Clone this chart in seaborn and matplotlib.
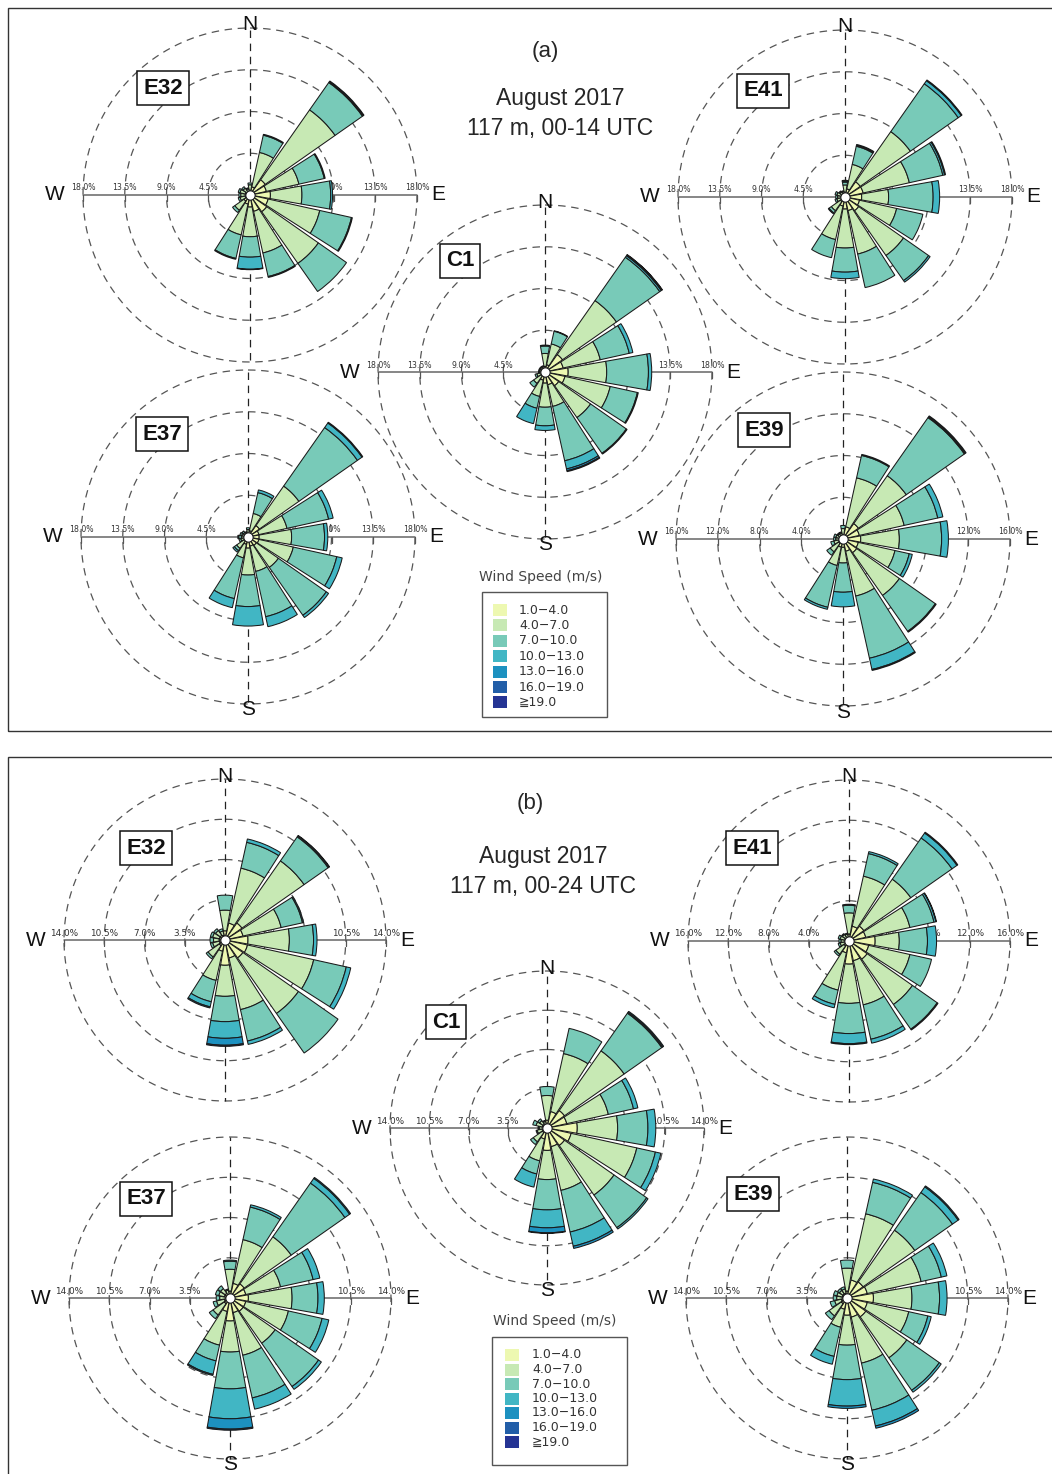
import numpy as np
import matplotlib
matplotlib.use("Agg")
import matplotlib.pyplot as plt
from matplotlib.patches import Rectangle
from matplotlib.transforms import offset_copy
import seaborn as sns

sns.set_style("white")
plt.rcParams["font.family"] = ["Liberation Sans", "DejaVu Sans"]

W, H = 1052, 1474

# 16 compass sectors, clockwise from north
DIRECTIONS = ["N", "NNE", "NE", "ENE", "E", "ESE", "SE", "SSE",
              "S", "SSW", "SW", "WSW", "W", "WNW", "NW", "NNW"]
SPEED_BINS = ["1.0\u22124.0", "4.0\u22127.0", "7.0\u221210.0", "10.0\u221213.0",
              "13.0\u221216.0", "16.0\u221219.0", "\u226719.0"]
BIN_COLORS = sns.color_palette(["#edf8b1", "#c7e9b4", "#78cab8", "#41b6c4",
                                "#1d91c0", "#225ea8", "#253494"])

# Frequency (%) per sector, split by speed bin (missing bins are zero)
# ---- (a) 00-14 UTC ----
E32_a = [[0.5, 0.6, 0.2], [0.9, 3.8, 1.9, 0.1], [2.0, 9.2, 3.6, 0.1, 0.1],
         [1.8, 3.6, 2.8, 0.1], [2.2, 3.4, 3.1, 0.2], [2.0, 5.7, 3.5, 0.1],
         [2.2, 6.8, 3.7], [1.8, 4.6, 2.6, 0.1], [1.3, 3.2, 2.2, 1.3, 0.05],
         [1.0, 3.4, 2.6, 0.1], [0.8, 1.2, 0.3], [0.5, 0.6, 0.2],
         [0.5, 0.5, 0.2], [0.5, 0.6, 0.2], [0.4, 0.5, 0.2], [0.3, 0.4, 0.1]]
E41_a = [[0.5, 0.8, 0.3, 0.1, 0.1], [0.9, 2.7, 2.0, 0.1, 0.1], [2.0, 6.6, 6.3, 0.4, 0.1],
         [2.0, 5.1, 3.7, 0.2, 0.1], [1.8, 2.9, 4.8, 0.7], [1.6, 4.1, 2.9],
         [1.8, 5.9, 3.3, 0.2], [1.5, 4.8, 3.7], [1.3, 4.2, 2.6, 0.7],
         [1.0, 3.7, 2.0], [0.6, 1.2, 0.3, 0.1], [0.4, 0.5, 0.2],
         [0.4, 0.4, 0.2], [0.4, 0.5, 0.2], [0.3, 0.4, 0.1], [0.3, 0.3, 0.1]]
C1_a = [[0.6, 1.4, 0.8, 0.1], [0.8, 2.3, 1.4, 0.05], [2.3, 7.1, 5.7, 0.2, 0.1, 0.05],
        [2.0, 4.1, 3.2, 0.4], [2.5, 4.15, 4.5, 0.35], [2.2, 5.0, 3.0, 0.1],
        [1.8, 4.2, 4.7, 0.1], [1.4, 2.4, 6.0, 0.9, 0.2, 0.1], [1.2, 2.6, 2.0, 0.5],
        [0.9, 1.8, 1.3, 1.7], [0.5, 1.0, 0.5], [0.4, 0.5, 0.2],
        [0.3, 0.3, 0.1], [0.3, 0.3, 0.1], [0.3, 0.3, 0.1], [0.3, 0.3, 0.1]]
E37_a = [[0.3, 0.5, 0.2], [0.7, 1.9, 2.3, 0.3], [1.5, 5.2, 7.7, 0.6, 0.1],
         [1.2, 3.1, 4.6, 0.5], [1.2, 3.5, 3.55, 0.35], [1.2, 3.8, 4.8, 0.6],
         [1.1, 2.9, 6.3, 0.3], [1.0, 2.8, 5.0, 1.1], [1.2, 2.9, 3.4, 2.1],
         [0.8, 1.5, 4.5, 1.0], [0.5, 1.0, 0.3, 0.2], [0.4, 0.4, 0.2],
         [0.3, 0.4, 0.3, 0.1], [0.3, 0.4, 0.2], [0.3, 0.3, 0.2], [0.2, 0.3, 0.1]]
E39_a = [[0.4, 0.6, 0.3], [1.2, 4.8, 2.2, 0.1], [1.8, 5.6, 6.8, 0.1, 0.1],
         [1.6, 4.4, 3.3, 0.5], [1.7, 3.7, 4.05, 0.65], [1.5, 3.6, 1.4, 0.3],
         [1.6, 5.0, 4.2, 0.1], [1.2, 4.4, 6.1, 1.1, 0.1], [0.8, 1.5, 2.8, 1.4],
         [0.8, 1.8, 4.1, 0.2], [0.5, 1.0, 0.4], [0.4, 0.5, 0.3],
         [0.3, 0.4, 0.2], [0.3, 0.4, 0.2], [0.3, 0.3, 0.1], [0.3, 0.3, 0.1]]

# ---- (b) 00-24 UTC ----
E32_b = [[0.8, 1.8, 1.3], [1.5, 4.9, 2.3, 0.3], [1.8, 6.6, 2.55, 0.1, 0.05],
         [1.6, 3.4, 1.9, 0.1], [2.0, 3.6, 2.1, 0.3], [2.0, 5.9, 2.9, 0.4],
         [1.9, 5.9, 4.2], [1.6, 4.6, 2.8, 0.3], [2.2, 2.7, 2.2, 1.45, 0.6, 0.1],
         [1.0, 2.6, 1.9, 0.45, 0.1], [0.6, 1.2, 0.2], [0.5, 0.6, 0.2],
         [0.5, 0.5, 0.3], [0.5, 0.6, 0.2], [0.5, 0.5, 0.2], [0.4, 0.4, 0.2]]
E41_b = [[0.7, 2.1, 0.75, 0.1], [1.5, 5.1, 2.3, 0.2], [1.8, 5.7, 5.0, 0.6, 0.1],
         [1.7, 4.5, 2.45, 0.2, 0.05], [2.6, 2.4, 2.8, 0.9], [2.0, 4.2, 2.2],
         [2.2, 5.5, 3.0, 0.1], [2.0, 4.5, 3.5, 0.4], [2.3, 3.9, 3.0, 1.0, 0.1],
         [1.2, 3.8, 1.45, 0.35], [0.6, 1.0, 0.2], [0.4, 0.5, 0.2],
         [0.4, 0.4, 0.2], [0.4, 0.5, 0.2], [0.4, 0.4, 0.1], [0.3, 0.4, 0.1]]
C1_b = [[0.7, 2.2, 0.8], [1.5, 5.3, 2.3], [1.9, 6.5, 4.1, 0.1, 0.1],
        [1.8, 3.8, 2.3, 0.4], [2.7, 3.6, 2.7, 0.7], [2.2, 6.0, 1.7, 0.5],
        [1.9, 5.4, 3.55, 0.15], [1.7, 4.0, 3.8, 1.3, 0.2], [2.0, 2.6, 2.7, 1.6, 0.45, 0.05],
        [1.0, 2.0, 1.2, 1.2], [0.5, 1.0, 0.3], [0.4, 0.5, 0.1],
        [0.3, 0.4, 0.1], [0.4, 0.6, 0.3], [0.4, 0.4, 0.2], [0.3, 0.3, 0.1]]
E37_b = [[0.6, 1.9, 0.7, 0.1], [1.3, 3.9, 2.9, 0.2], [1.5, 5.0, 5.7, 0.5, 0.1],
         [1.4, 3.1, 2.9, 0.6], [1.6, 3.8, 2.25, 0.55], [1.4, 3.8, 3.0, 0.6],
         [1.4, 3.4, 4.6, 0.3], [1.3, 3.8, 3.8, 1.0], [2.0, 2.7, 3.2, 2.6, 0.9, 0.1],
         [1.2, 3.0, 1.4, 1.2, 0.1], [0.6, 1.2, 0.4], [0.5, 0.7, 0.3],
         [0.4, 0.5, 0.3], [0.5, 0.5, 0.3], [0.5, 0.5, 0.3], [0.3, 0.4, 0.1]]
E39_b = [[0.6, 2.0, 0.7], [1.6, 5.9, 2.8, 0.3], [1.7, 5.5, 4.0, 0.6, 0.1],
         [1.8, 4.8, 1.8, 0.5], [2.3, 3.35, 2.4, 0.65], [1.8, 3.7, 1.7, 0.3],
         [2.0, 4.35, 3.45, 0.2], [1.7, 4.1, 4.2, 1.4, 0.2], [1.5, 2.6, 3.0, 2.3, 0.2],
         [1.0, 1.6, 2.6, 0.7], [0.6, 1.3, 0.4], [0.5, 0.6, 0.4],
         [0.4, 0.5, 0.3], [0.4, 0.5, 0.3], [0.4, 0.4, 0.2], [0.4, 0.4, 0.2]]

RINGS_A = [4.5, 9.0, 13.5, 18.0]
RINGS_A39 = [4.0, 8.0, 12.0, 16.0]
RINGS_B = [3.5, 7.0, 10.5, 14.0]
RINGS_B41 = [4.0, 8.0, 12.0, 16.0]


def fx(x):
    return x / W


def fy(y):
    return 1 - y / H


def as_table(rows):
    table = np.zeros((len(DIRECTIONS), len(SPEED_BINS)))
    for i, r in enumerate(rows):
        table[i, :len(r)] = r
    return table


def draw_rose(fig, name, cx, cy, rpx, rings, rows, letters, box_xy, tick_fs):
    R = rpx + 14
    ax = fig.add_axes([fx(cx - R), fy(cy + R), 2 * R / W, 2 * R / H],
                      projection="polar")
    ax.set_theta_zero_location("N")
    ax.set_theta_direction(-1)
    outer = rings[-1]
    ax.set_ylim(0, outer * R / rpx)
    ax.set_facecolor("none")
    ax.grid(False)
    ax.set_xticks([])
    ax.set_yticks([])
    ax.spines["polar"].set_visible(False)

    # dashed range rings and N-S guide
    t = np.linspace(0, 2 * np.pi, 721)
    for r in rings:
        ax.plot(t, np.full_like(t, r), ls=(0, (6, 4.5)), color="#555555",
                lw=0.9, zorder=1)
    for th in (0.0, np.pi):
        ax.plot([th, th], [0, outer], ls=(0, (6, 4.5)), color="#222222",
                lw=0.9, zorder=1)
    # solid W-E scale line with ticks and percentage labels
    lab_tr = offset_copy(ax.transData, fig=fig, y=2.5, units="dots")
    for th in (np.pi / 2, 3 * np.pi / 2):
        ax.plot([th, th], [0, outer], color="#666666", lw=1.1, zorder=1.5)
        for r in rings:
            ax.plot([th], [r], marker=[(0, 0), (0, -1)], ms=9, mew=0.9,
                    color="#555555", zorder=1.5)
            ax.text(th, r, f"{r:.1f}%", transform=lab_tr, ha="center",
                    va="bottom", fontsize=tick_fs, color="#333333",
                    family="DejaVu Sans", zorder=2)

    # stacked wedges
    table = as_table(rows)
    theta = np.deg2rad(np.arange(len(DIRECTIONS)) * 22.5)
    width = np.deg2rad(20.0)
    bottom = np.zeros(len(DIRECTIONS))
    for k in range(len(SPEED_BINS)):
        h = table[:, k]
        m = h > 0
        if m.any():
            ax.bar(theta[m], h[m], width=width, bottom=bottom[m],
                   color=BIN_COLORS[k], edgecolor="#1a1a1a", linewidth=0.75,
                   zorder=3)
        bottom += h
    ax.scatter([0], [0], s=45, facecolor="white", edgecolor="#1e1e1e",
               linewidth=0.8, zorder=5)

    # compass letters
    pos = {"N": (cx, cy - rpx - 3), "S": (cx, cy + rpx + 6),
           "E": (cx + rpx + 21, cy), "W": (cx - rpx - 28, cy)}
    for L in letters:
        x, y = pos[L]
        fig.text(fx(x), fy(y), L, ha="center", va="center", fontsize=15,
                 color="#111111")
    # station tag
    fig.text(fx(box_xy[0]), fy(box_xy[1]), name, ha="center", va="center",
             fontsize=16, fontweight="bold", color="#111111",
             bbox=dict(boxstyle="square,pad=0.28", facecolor="white",
                       edgecolor="#111111", linewidth=1.1))
    return ax


def draw_legend(fig, title_xy, box, row0, dy, sq_x, txt_x):
    fig.text(fx(title_xy[0]), fy(title_xy[1]), "Wind Speed (m/s)", ha="center",
             va="center", fontsize=10, color="#444444", family="DejaVu Sans")
    x0, y0, x1, y1 = box
    fig.add_artist(Rectangle((fx(x0), fy(y1)), fx(x1 - x0), (y1 - y0) / H,
                             transform=fig.transFigure, fill=False,
                             edgecolor="#555555", linewidth=1.0))
    for k, (lab, c) in enumerate(zip(SPEED_BINS, BIN_COLORS)):
        yc = row0 + k * dy
        fig.add_artist(Rectangle((fx(sq_x), fy(yc + 6)), 14 / W, 12 / H,
                                 transform=fig.transFigure, facecolor=c,
                                 edgecolor="none"))
        fig.text(fx(txt_x), fy(yc), lab, ha="left", va="center", fontsize=9,
                 color="#333333", family="DejaVu Sans")


fig = plt.figure(figsize=(W / 100, H / 100), dpi=100)

# panel frames
for top, bottom in ((8, 731), (757, 1490)):
    fig.add_artist(Rectangle((fx(8), fy(bottom)), fx(1100), (bottom - top) / H,
                             transform=fig.transFigure, fill=False,
                             edgecolor="#333333", linewidth=1.0))

# ---- panel (a) ----
draw_rose(fig, "E32", 250, 195, 167, RINGS_A, E32_a, "NWE", (163, 88), 5.6)
draw_rose(fig, "E41", 845, 197, 167, RINGS_A, E41_a, "NWE", (763, 91), 5.6)
draw_rose(fig, "C1", 545, 372, 167, RINGS_A, C1_a, "NWES", (460, 261), 5.6)
draw_rose(fig, "E37", 248, 537, 167, RINGS_A, E37_a, "WES", (162, 434), 5.6)
draw_rose(fig, "E39", 843, 539, 167, RINGS_A39, E39_a, "WES", (764, 430), 5.6)

fig.text(fx(545), fy(52), "(a)", ha="center", va="center", fontsize=16)
fig.text(fx(560), fy(98), "August 2017", ha="center", va="center", fontsize=16.5)
fig.text(fx(560), fy(128), "117 m, 00-14 UTC", ha="center", va="center", fontsize=16.5)
draw_legend(fig, (541, 577), (482, 592, 607, 717), 610, 15.4, 493, 519)

# ---- panel (b) ----
draw_rose(fig, "E32", 225, 940, 161, RINGS_B, E32_b, "NWE", (146, 848), 6.4)
draw_rose(fig, "E41", 849, 941, 161, RINGS_B41, E41_b, "NWE", (752, 848), 6.4)
draw_rose(fig, "C1", 547, 1128, 157, RINGS_B, C1_b, "NWES", (446, 1022), 6.4)
draw_rose(fig, "E37", 230, 1298, 161, RINGS_B, E37_b, "WES", (146, 1199), 6.4)
draw_rose(fig, "E39", 847, 1298, 161, RINGS_B, E39_b, "WES", (753, 1194), 6.4)

fig.text(fx(530), fy(803), "(b)", ha="center", va="center", fontsize=16)
fig.text(fx(543), fy(857), "August 2017", ha="center", va="center", fontsize=16.5)
fig.text(fx(543), fy(887), "117 m, 00-24 UTC", ha="center", va="center", fontsize=16.5)
draw_legend(fig, (555, 1321), (492, 1337, 627, 1465), 1355, 14.5, 505, 532)

fig.savefig("out.png", dpi=100)
